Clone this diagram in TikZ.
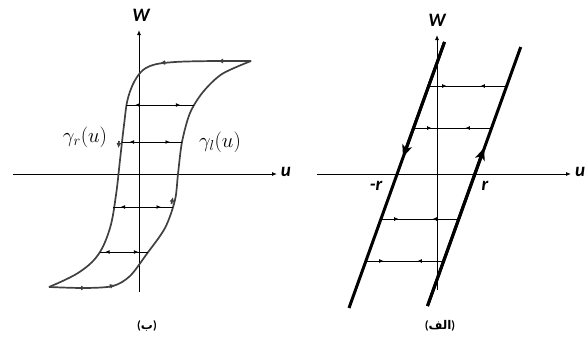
\documentclass[tikz,border=0pt]{standalone}
\usepackage{fontspec}
\newfontfamily\labelfont{Carlito}
\newfontfamily\arabicfont[Script=Arabic]{DejaVu Sans}
\TeXXeTstate=1
\usetikzlibrary{arrows.meta,decorations.markings}

\begin{document}
\begin{tikzpicture}[
  x=1pt,y=-1pt,
  axis/.style={line width=0.9pt,-{Latex[length=5pt,width=4pt]}},
  hyst/.style={line width=1.7pt,black!75,line join=round},
  dot/.style={hyst,-{Latex[length=5pt,width=5pt]}},
  play/.style={line width=3pt},
  big/.style={play,-{Stealth[length=12pt,width=10pt,inset=3pt]}},
  level/.style={line width=1pt},
  outmarks/.style={level,postaction={decorate},decoration={markings,
    mark=at position 0.2 with {\arrow{Latex[length=4.5pt,width=4pt,reversed]}},
    mark=at position 0.8 with {\arrow{Latex[length=4.5pt,width=4pt]}}}},
  inmarks/.style={level,postaction={decorate},decoration={markings,
    mark=at position 0.23 with {\arrow{Latex[length=4.5pt,width=4pt]}},
    mark=at position 0.72 with {\arrow{Latex[length=4.5pt,width=4pt,reversed]}}}},
  lbl/.style={font=\labelfont\itshape\bfseries\fontsize{19}{19}\selectfont},
  caption/.style={font=\arabicfont\bfseries\fontsize{12}{12}\selectfont}
]
\useasboundingbox (0,0) rectangle (588,340);

% left panel: hysteresis loop
\draw[axis] (13,174) -- (277,174);
\draw[axis] (139,292) -- (139,30);
\node[lbl] (wb) at (141,15) {W};
\node[lbl] (ub) at (286,172) {u};

\draw[hyst] (251,61) -- plot[smooth,tension=0.6] coordinates {(218,61) (175,62) (150,66) (137,77)
  (128,98) (124,125) (120,160) (116,195) (110,228) (98,255) (78,273) (49,287)};
\draw[hyst] plot[smooth,tension=0.5] coordinates {(49,287) (85,288) (113,286) (130,276)
  (146,255) (165,228) (175,200) (178,174) (182,142) (190,113) (203,92) (222,74) (251,61)};

\draw[dot] (224,61) -- (218,61);
\draw[dot] (166,62.4) -- (160,63.2);
\draw[dot] (119,141) -- (118.4,148);
\draw[dot] (80,288) -- (86,288);
\draw[dot] (109,286.7) -- (115,285);
\draw[dot] (171.5,204) -- (173,197);

\draw[outmarks] (126,105) -- (194,105);
\draw[outmarks] (122,142) -- (182,142);
\draw[outmarks] (113,207) -- (173,207);
\draw[outmarks] (100,252) -- (148,252);

\node[font=\fontsize{21}{21}\selectfont] (gr) at (85,137) {$\gamma_r(u)$};
\node[font=\fontsize{21}{21}\selectfont] (gl) at (220,142) {$\gamma_l(u)$};
\node[caption] (capb) at (147,326) {{\labelfont(}ب{\labelfont)}};

% right panel: play operator
\draw[axis] (317,174) -- (571,174);
\draw[axis] (437,290) -- (437,35);
\node[lbl] (wa) at (437,20) {W};
\node[lbl] (ua) at (580,172) {u};

\coordinate (l1a) at (444.5,42);
\coordinate (l1b) at (349,308);
\coordinate (l2a) at (520.7,47);
\coordinate (l2b) at (427.5,306);
\draw[play] (l1a) -- (l1b);
\draw[play] (l2a) -- (l2b);
\draw[big] (l1a) -- (403,157);
\draw[big] (l2b) -- (484,148);

\draw[inmarks] (428.7,86) -- (506.7,86);
\draw[inmarks] (413.6,128) -- (491.6,128);
\draw[inmarks] (380.8,219) -- (458.8,219);
\draw[inmarks] (365.7,261) -- (443.7,261);

\node[lbl] (mr) at (376,186) {-r};
\node[lbl] (pr) at (485,186) {r};
\node[caption] (capa) at (440,326) {{\labelfont(}\beginR الف\endR{\labelfont)}};
\end{tikzpicture}
\end{document}
